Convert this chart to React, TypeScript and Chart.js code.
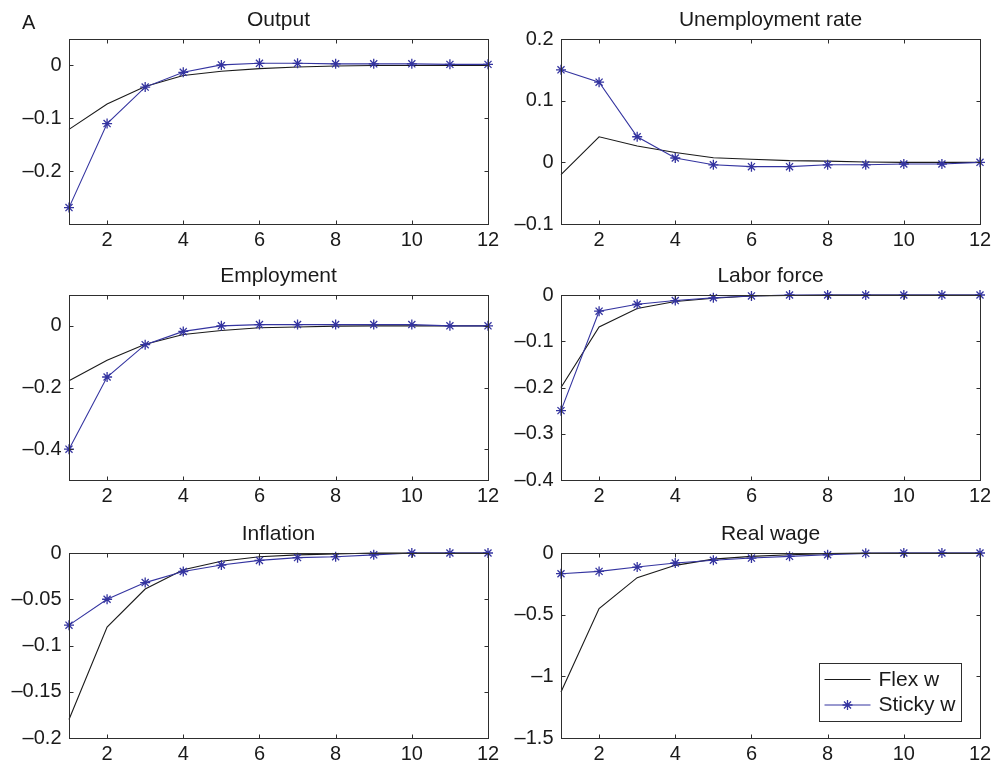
import React, { useEffect, useRef } from 'react';
import { Chart, registerables } from 'chart.js';

Chart.register(...registerables);

// ---------- data ----------
const periods = [1, 2, 3, 4, 5, 6, 7, 8, 9, 10, 11, 12];
const xTickValues = [2, 4, 6, 8, 10, 12];
const seriesNames = ['Flex w', 'Sticky w'];
const panelLabel = 'A';

const outputFlex = [-0.121, -0.073, -0.04, -0.019, -0.011, -0.006, -0.003, -0.001, 0, 0, 0, 0];
const outputSticky = [-0.269, -0.11, -0.041, -0.013, 0.001, 0.004, 0.004, 0.003, 0.003, 0.003, 0.002, 0.002];
const outputTicks = [-0.2, -0.1, 0];

const unempFlex = [-0.02, 0.0415, 0.0266, 0.016, 0.0074, 0.005, 0.0027, 0.002, 0.0005, 0, 0, 0];
const unempSticky = [0.15, 0.13, 0.0415, 0.007, -0.004, -0.007, -0.007, -0.004, -0.004, -0.0027, -0.0027, 0];
const unempTicks = [-0.1, 0, 0.1, 0.2];

const emplFlex = [-0.178, -0.112, -0.06, -0.028, -0.015, -0.006, -0.004, -0.001, 0, 0, 0, 0];
const emplSticky = [-0.4, -0.166, -0.061, -0.018, 0, 0.004, 0.004, 0.004, 0.004, 0.004, 0, 0];
const emplTicks = [-0.4, -0.2, 0];

const laborFlex = [-0.2, -0.069, -0.029, -0.014, -0.007, -0.002, -0.001, 0, 0, 0, 0, 0];
const laborSticky = [-0.25, -0.035, -0.02, -0.012, -0.006, -0.002, 0, 0, 0, 0, 0, 0];
const laborTicks = [-0.4, -0.3, -0.2, -0.1, 0];

const inflFlex = [-0.18, -0.08, -0.039, -0.018, -0.009, -0.004, -0.002, -0.001, 0, 0, 0, 0];
const inflSticky = [-0.078, -0.05, -0.032, -0.02, -0.013, -0.008, -0.005, -0.004, -0.002, 0, 0, 0];
const inflTicks = [-0.2, -0.15, -0.1, -0.05, 0];

const wageFlex = [-1.127, -0.45, -0.2, -0.1, -0.05, -0.027, -0.014, -0.005, 0, 0, 0, 0];
const wageSticky = [-0.168, -0.149, -0.114, -0.081, -0.059, -0.041, -0.027, -0.014, -0.003, 0, 0, 0];
const wageTicks = [-1.5, -1, -0.5, 0];

// ---------- styling / layout ----------
const FONT = "'Liberation Sans', Arial, Helvetica, sans-serif";
const TEXT = '#1a1a1a';
const FLEX_COLOR = '#1a1a1a';
const STICKY_COLOR = '#3434a0';
const AXIS_COLOR = '#2e2e2e';

const PAD_L = 69;
const PAD_T = 39;
const PAD_R = 20;
const PAD_B = 34;
const PLOT_W = 419;
const PLOT_H = 185;

type PanelSpec = {
  title: string;
  flex: number[];
  sticky: number[];
  yMin: number;
  yMax: number;
  yTicks: number[];
  left: number;
  top: number;
  legend?: boolean;
  label?: string;
};

const panels: PanelSpec[] = [
  { title: 'Output', flex: outputFlex, sticky: outputSticky, yMin: -0.3, yMax: 0.05, yTicks: outputTicks, left: 69, top: 39, label: panelLabel },
  { title: 'Unemployment rate', flex: unempFlex, sticky: unempSticky, yMin: -0.1, yMax: 0.2, yTicks: unempTicks, left: 561, top: 39 },
  { title: 'Employment', flex: emplFlex, sticky: emplSticky, yMin: -0.5, yMax: 0.1, yTicks: emplTicks, left: 69, top: 295 },
  { title: 'Labor force', flex: laborFlex, sticky: laborSticky, yMin: -0.4, yMax: 0, yTicks: laborTicks, left: 561, top: 295 },
  { title: 'Inflation', flex: inflFlex, sticky: inflSticky, yMin: -0.2, yMax: 0, yTicks: inflTicks, left: 69, top: 553 },
  { title: 'Real wage', flex: wageFlex, sticky: wageSticky, yMin: -1.5, yMax: 0, yTicks: wageTicks, left: 561, top: 553, legend: true },
];

function fmt(v: number): string {
  if (v === 0) return '0';
  const s = String(Math.abs(v));
  return v < 0 ? '\u2013' + s : s;
}

const boxPlugin = {
  id: 'matlabBox',
  afterDraw(chart: any) {
    const { ctx, chartArea: a, scales } = chart;
    const xs = scales.x;
    const ys = scales.y;
    const L = Math.round(a.left) + 0.5;
    const R = Math.round(a.right) + 0.5;
    const T = Math.round(a.top) + 0.5;
    const B = Math.round(a.bottom) + 0.5;
    ctx.save();
    ctx.strokeStyle = AXIS_COLOR;
    ctx.lineWidth = 1;
    ctx.strokeRect(L, T, R - L, B - T);
    ctx.beginPath();
    for (const t of ys.ticks) {
      const py = Math.round(ys.getPixelForValue(t.value)) + 0.5;
      ctx.moveTo(L, py); ctx.lineTo(L + 4, py);
      ctx.moveTo(R, py); ctx.lineTo(R - 4, py);
    }
    for (const t of xs.ticks) {
      const px = Math.round(xs.getPixelForValue(t.value)) + 0.5;
      ctx.moveTo(px, B); ctx.lineTo(px, B - 4);
      ctx.moveTo(px, T); ctx.lineTo(px, T + 4);
    }
    ctx.stroke();

    const opts = chart.options.plugins.extra || {};
    if (opts.label) {
      ctx.fillStyle = TEXT;
      ctx.font = `20px ${FONT}`;
      ctx.textBaseline = 'alphabetic';
      ctx.textAlign = 'left';
      ctx.fillText(opts.label, 22, 28.5);
    }
    if (opts.legend) {
      const w = 142, h = 58;
      const bx = Math.round(a.right) - 19 - w + 0.5;
      const by = Math.round(a.bottom) - 17 - h + 0.5;
      ctx.fillStyle = '#ffffff';
      ctx.fillRect(bx, by, w, h);
      ctx.strokeStyle = AXIS_COLOR;
      ctx.strokeRect(bx, by, w, h);
      const rows = [16, 41.5];
      chart.data.datasets.forEach((ds: any, i: number) => {
        const ry = by + rows[i];
        ctx.strokeStyle = ds.borderColor;
        ctx.lineWidth = 1;
        ctx.beginPath();
        ctx.moveTo(bx + 5, ry);
        ctx.lineTo(bx + 51, ry);
        ctx.stroke();
        if (ds.pointRadius > 0) {
          ctx.save();
          ctx.lineWidth = ds.pointBorderWidth;
          ctx.strokeStyle = ds.borderColor;
          const r = ds.pointRadius;
          const cx = bx + 28, cy = ry;
          ctx.beginPath();
          ctx.moveTo(cx - r, cy); ctx.lineTo(cx + r, cy);
          ctx.moveTo(cx, cy - r); ctx.lineTo(cx, cy + r);
          const d = r * Math.SQRT1_2;
          ctx.moveTo(cx - d, cy - d); ctx.lineTo(cx + d, cy + d);
          ctx.moveTo(cx - d, cy + d); ctx.lineTo(cx + d, cy - d);
          ctx.stroke();
          ctx.restore();
        }
        ctx.fillStyle = TEXT;
        ctx.font = `21px ${FONT}`;
        ctx.textBaseline = 'middle';
        ctx.textAlign = 'left';
        ctx.fillText(ds.label, bx + 59, ry + 0.5);
      });
    }
    ctx.restore();
  },
};

function Panel({ spec }: { spec: PanelSpec }) {
  const ref = useRef<HTMLCanvasElement>(null);
  const cw = PAD_L + PLOT_W + PAD_R;
  const ch = PAD_T + PLOT_H + PAD_B;

  useEffect(() => {
    if (!ref.current) return;
    const chart = new Chart(ref.current, {
      type: 'line',
      data: {
        datasets: [
          {
            label: seriesNames[0],
            data: periods.map((p, i) => ({ x: p, y: spec.flex[i] })),
            borderColor: FLEX_COLOR,
            backgroundColor: FLEX_COLOR,
            borderWidth: 1.1,
            pointRadius: 0,
            tension: 0,
            order: 1,
            clip: false as any,
          },
          {
            label: seriesNames[1],
            data: periods.map((p, i) => ({ x: p, y: spec.sticky[i] })),
            borderColor: STICKY_COLOR,
            backgroundColor: STICKY_COLOR,
            borderWidth: 1.1,
            pointStyle: 'star',
            pointRadius: 5,
            pointBorderWidth: 1.3,
            pointBorderColor: STICKY_COLOR,
            tension: 0,
            order: 0,
            clip: false as any,
          },
        ],
      },
      options: {
        animation: false,
        responsive: false,
        maintainAspectRatio: false,
        devicePixelRatio: 1,
        events: [],
        layout: { padding: { left: 0, right: PAD_R, top: 0, bottom: 0 } },
        plugins: {
          legend: { display: false },
          tooltip: { enabled: false },
          title: {
            display: true,
            text: spec.title,
            fullSize: false,
            color: TEXT,
            font: { family: FONT, size: 21, weight: 'normal' as any, lineHeight: 1.2 },
            padding: { top: 7.6, bottom: PAD_T - 25.2 - 7.6 },
          },
          extra: { legend: !!spec.legend, label: spec.label },
        } as any,
        scales: {
          x: {
            type: 'linear',
            min: 1,
            max: 12,
            grid: { display: false, drawTicks: false },
            border: { display: false },
            afterBuildTicks: (s: any) => {
              s.ticks = xTickValues.map((v) => ({ value: v }));
            },
            afterFit: (s: any) => {
              s.height = PAD_B;
            },
            ticks: {
              color: TEXT,
              font: { family: FONT, size: 20 },
              padding: 4,
              maxRotation: 0,
              autoSkip: false,
              callback: (v: any) => String(v),
            },
          },
          y: {
            type: 'linear',
            min: spec.yMin,
            max: spec.yMax,
            grid: { display: false, drawTicks: false },
            border: { display: false },
            afterBuildTicks: (s: any) => {
              s.ticks = spec.yTicks.map((v) => ({ value: v }));
            },
            afterFit: (s: any) => {
              s.width = PAD_L;
            },
            ticks: {
              color: TEXT,
              font: { family: FONT, size: 20 },
              padding: 7.5,
              autoSkip: false,
              callback: (v: any) => fmt(Number(v)),
            },
          },
        },
      },
      plugins: [boxPlugin],
    });
    return () => chart.destroy();
  }, [spec]);

  return (
    <canvas
      ref={ref}
      width={cw}
      height={ch}
      style={{
        position: 'absolute',
        left: spec.left - PAD_L,
        top: spec.top - PAD_T,
        width: cw,
        height: ch,
      }}
    />
  );
}

export default function App() {
  return (
    <div
      style={{
        position: 'absolute',
        left: 0,
        top: 0,
        width: 994,
        height: 764,
        background: '#ffffff',
        overflow: 'hidden',
      }}
    >
      {panels.map((p) => (
        <Panel key={p.title} spec={p} />
      ))}
    </div>
  );
}
